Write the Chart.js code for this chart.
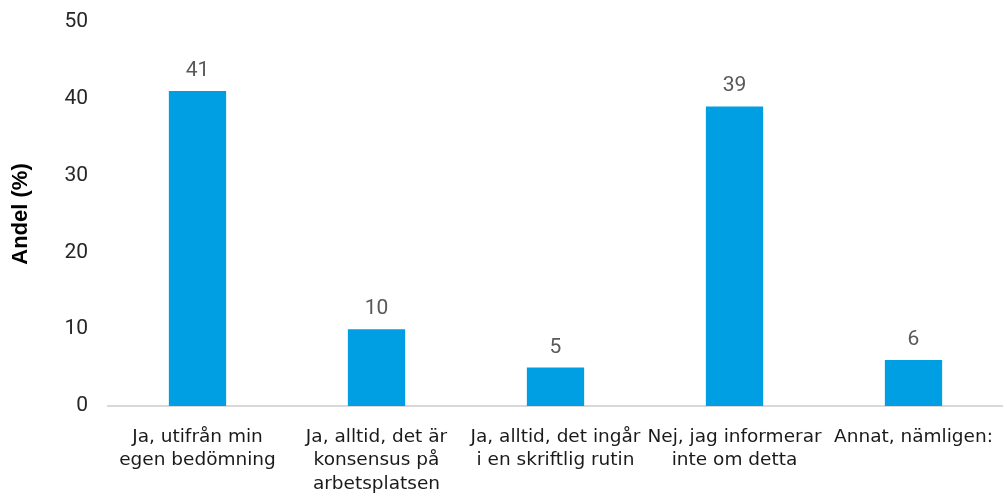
<!DOCTYPE html>
<html>
<head>
<meta charset="utf-8">
<script src="https://cdn.jsdelivr.net/npm/chart.js@4"></script>
<style>
  html, body { margin: 0; padding: 0; background: #fff; }
  #wrap { width: 1003px; height: 495px; }
</style>
</head>
<body>
<div id="wrap"><canvas id="chart"></canvas></div>
<script>
const categories = [
    ["Ja, utifrån min", "egen bedömning"],
    ["Ja, alltid, det är", "konsensus på", "arbetsplatsen"],
    ["Ja, alltid, det ingår", "i en skriftlig rutin"],
    ["Nej, jag informerar", "inte om detta"],
    ["Annat, nämligen:"]
];
const shares = [41, 10, 5, 39, 6];
const yTicks = [0, 10, 20, 30, 40, 50];

// draw the value above each bar
const valueLabels = {
    id: "valueLabels",
    afterDatasetsDraw(chart) {
        const ctx = chart.ctx;
        const meta = chart.getDatasetMeta(0);
        ctx.save();
        ctx.font = "21px Roboto";
        ctx.fillStyle = "#595959";
        ctx.textAlign = "center";
        ctx.textBaseline = "alphabetic";
        meta.data.forEach((bar, i) => {
            ctx.fillText(String(shares[i]), bar.x, bar.y - 15);
        });
        ctx.restore();
    }
};

new Chart(document.getElementById("chart"), {
    type: "bar",
    data: {
        labels: categories,
        datasets: [{
            data: shares,
            backgroundColor: "#009fe3",
            categoryPercentage: 1,
            barPercentage: 0.32
        }]
    },
    options: {
        responsive: true,
        maintainAspectRatio: false,
        animation: false,
        layout: { padding: { top: 22, right: 0, left: 0, bottom: 0 } },
        plugins: {
            legend: { display: false },
            tooltip: { enabled: false }
        },
        scales: {
            x: {
                grid: { display: false, drawTicks: false },
                border: { display: true, color: "#d9d9d9", width: 2 },
                ticks: {
                    autoSkip: false,
                    maxRotation: 0,
                    minRotation: 0,
                    padding: 19,
                    color: "#1a1a1a",
                    font: { family: "DejaVu Sans", size: 18.5, lineHeight: 1.27 }
                },
                afterFit(scale) {
                    scale.height = 89;
                    scale.paddingLeft = 0;
                    scale.paddingRight = 0;
                }
            },
            y: {
                min: 0,
                max: 50,
                afterBuildTicks(scale) {
                    scale.ticks = yTicks.map(v => ({ value: v }));
                },
                grid: { display: false, drawTicks: false },
                border: { display: false },
                ticks: {
                    padding: 20,
                    color: "#262626",
                    font: { family: "Roboto", size: 21 }
                },
                title: {
                    display: true,
                    text: "Andel (%)",
                    color: "#000",
                    padding: { top: 8, bottom: 0 },
                    font: { family: "Liberation Sans", size: 22, weight: "bold" }
                },
                afterFit(scale) {
                    scale.width = 108;
                    scale.paddingTop = 0;
                    scale.paddingBottom = 0;
                }
            }
        }
    },
    plugins: [valueLabels]
});
</script>
</body>
</html>
